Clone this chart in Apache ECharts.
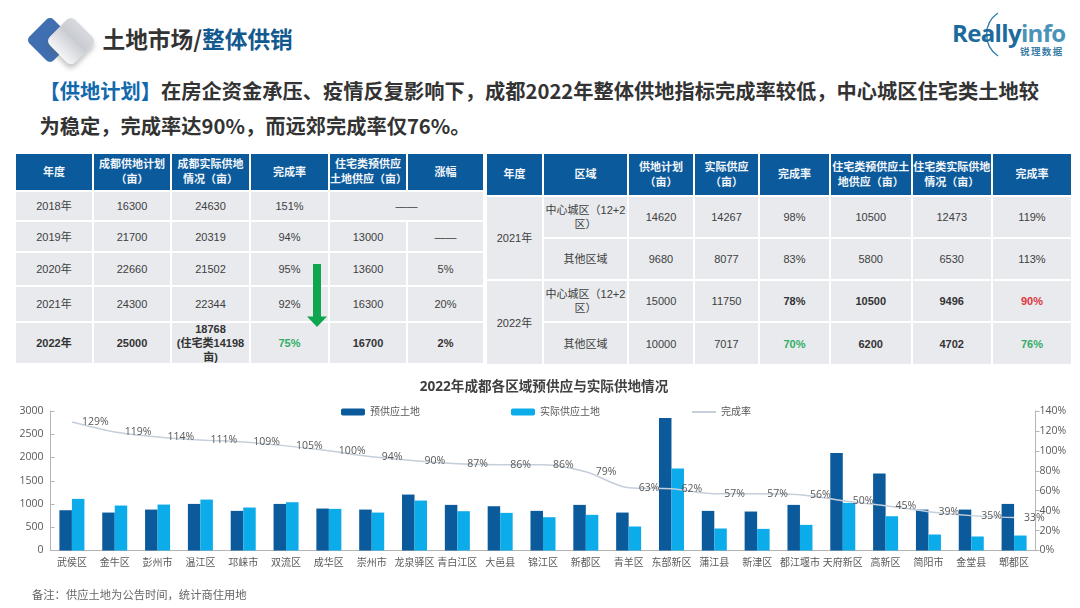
<!DOCTYPE html>
<html>
<head>
<meta charset="utf-8">
<title>土地市场/整体供销</title>
<script src="https://cdn.jsdelivr.net/npm/echarts@6/dist/echarts.min.js"></script>
<style>
  html, body { margin: 0; padding: 0; background: #fff; }
  #page { position: relative; width: 1080px; height: 608px; overflow: hidden; font-family: "Liberation Sans", "Noto Sans CJK SC", sans-serif; color: #404040; }
  .abs { position: absolute; white-space: nowrap; }
  #icon-blue, #icon-gray { position: absolute; transform: rotate(45deg); }
  #icon-blue { left: 33px; top: 23px; width: 34px; height: 34px; border-radius: 5px; background: #3f6fb0; }
  #icon-gray { left: 53px; top: 23px; width: 36px; height: 36px; border-radius: 6px; background: linear-gradient(0deg, #f4f5f7, #c9ccd2 60%, #d8dadf); box-shadow: 3px 3px 5px rgba(90,90,90,.35); }
  #title { left: 102.5px; top: 22px; font: bold 22.7px/34px "Noto Sans CJK SC", sans-serif; color: #333; }
  #title span { color: #12598f; }
  .lead { left: 39.5px; font: bold 20.25px/30px "Noto Sans CJK SC", sans-serif; color: #333; }
  .lead span { color: #1269ad; }
  .tbl { position: absolute; top: 154px; display: grid; gap: 2px; font-size: 11px; line-height: 14px; }
  .tbl div { display: flex; align-items: center; justify-content: center; text-align: center; white-space: pre-line; background: #e8eaee; min-height: 0; }
  .tbl div.head { background: #0b5a9b; color: #f2f6fa; font-weight: bold; line-height: 15px; }
  .tbl div.bold { font-weight: bold; color: #333; }
  .tbl div.good { color: #2fae66; font-weight: bold; }
  .tbl div.bad { color: #e0333c; font-weight: bold; }
  #chart { position: absolute; left: 0; top: 370px; width: 1080px; height: 238px; }
  #note { left: 32px; top: 586px; font: 11.3px/16px "Noto Sans CJK SC", sans-serif; color: #666; }
  #logo { left: 952px; top: 18px; font: 700 24px/30px "Open Sans", sans-serif; letter-spacing: -0.65px; color: #1d6a9c; }
  #logo span { color: #4b93b8; }
  #logo-cn { left: 1020px; top: 46px; font: bold 9.5px/11px "Noto Sans CJK SC", sans-serif; letter-spacing: 1.4px; color: #3c7ea6; }
</style>
</head>
<body>
<div id="page">
  <div id="icon-blue"></div>
  <div id="icon-gray"></div>
  <div id="title" class="abs">土地市场/<span>整体供销</span></div>
  <svg class="abs" style="left:0;top:0" width="1080" height="70">
    <path d="M998 13 A26 26 0 0 0 998 56" fill="none" stroke="#2f7fae" stroke-width="1.4"/>
  </svg>
  <div id="logo" class="abs">Really<span>info</span></div>
  <div id="logo-cn" class="abs">锐理数据</div>
  <div class="abs lead" style="top:76px"><span>【供地计划】</span>在房企资金承压、疫情反复影响下，成都2022年整体供地指标完成率较低，中心城区住宅类土地较</div>
  <div class="abs lead" style="top:111px">为稳定，完成率达90%，而远郊完成率仅76%。</div>
  <div id="plan-table" class="tbl" style="left:16px;width:467px;grid-template-columns:76px 76px 77px 77px 76px 75px;grid-template-rows:36px 28px 29px 32px 34px 40px"></div>
  <div id="region-table" class="tbl" style="left:487px;width:585px;grid-template-columns:55px 83px 64px 63px 69px 79.5px 78.5px 78px;grid-template-rows:41px 40px 40px 40px 41px"></div>
  <svg class="abs" style="left:300px;top:260px" width="34" height="70">
    <path d="M13 4 H21 V56.5 H27 L17 67 L7 56.5 H13 Z" fill="#0fa650"/>
  </svg>
  <div id="chart"></div>
  <div id="note" class="abs">备注：供应土地为公告时间，统计商住用地</div>
</div>
<script>
// 左表：年度供地
const planHead = ["年度", "成都供地计划\n（亩）", "成都实际供地\n情况（亩）", "完成率", "住宅类预供应\n土地供应（亩）", "涨幅"];
const planRows = [
    ["2018年", "16300", "24630", "151%", "——"],
    ["2019年", "21700", "20319", "94%", "13000", "——"],
    ["2020年", "22660", "21502", "95%", "13600", "5%"],
    ["2021年", "24300", "22344", "92%", "16300", "20%"],
    ["2022年", "25000", "18768\n(住宅类14198\n亩)", "75%", "16700", "2%"]
];

// 右表：分区域供地
const regionHead = ["年度", "区域", "供地计划\n（亩）", "实际供应\n（亩）", "完成率", "住宅类预供应土\n地供应（亩）", "住宅类实际供地\n情况（亩）", "完成率"];
const regionYears = ["2021年", "2022年"];
const regionRows = [
    ["中心城区（12+2\n区）", "14620", "14267", "98%", "10500", "12473", "119%"],
    ["其他区域", "9680", "8077", "83%", "5800", "6530", "113%"],
    ["中心城区（12+2\n区）", "15000", "11750", "78%", "10500", "9496", "90%"],
    ["其他区域", "10000", "7017", "70%", "6200", "4702", "76%"]
];

// 下方图表
const categories = ["武侯区", "金牛区", "彭州市", "温江区", "邛崃市", "双流区", "成华区", "崇州市", "龙泉驿区", "青白江区", "大邑县", "锦江区", "新都区", "青羊区", "东部新区", "蒲江县", "新津区", "都江堰市", "天府新区", "高新区", "简阳市", "金堂县", "郫都区"];
const preSupply = [866, 816, 880, 1002, 852, 1002, 902, 880, 1203, 981, 952, 852, 981, 816, 2850, 852, 838, 981, 2098, 1654, 880, 880, 1002];
const actualSupply = [1110, 967, 988, 1095, 924, 1038, 895, 816, 1074, 845, 809, 716, 766, 516, 1761, 473, 465, 551, 1024, 737, 344, 301, 322];
const finishRate = [129, 119, 114, 111, 109, 105, 100, 94, 90, 87, 86, 86, 79, 63, 62, 57, 57, 56, 50, 45, 39, 35, 33];

function addCell(parent, text, cls, style) {
    let d = document.createElement("div");
    d.textContent = text;
    if (cls) d.className = cls;
    if (style) d.style.cssText = style;
    parent.appendChild(d);
}

// 左表
let planEl = document.getElementById("plan-table");
planHead.forEach(t => addCell(planEl, t, "head"));
planRows.forEach((row, r) => {
    row.forEach((t, c) => {
        let cls = r == 4 ? "bold" : "";
        if (r == 4 && c == 3) cls = "good";
        // 2018年后两列合并
        addCell(planEl, t, cls, (r == 0 && c == 4) ? "grid-column:span 2" : "");
    });
});

// 右表
let regionEl = document.getElementById("region-table");
regionHead.forEach(t => addCell(regionEl, t, "head"));
regionRows.forEach((row, r) => {
    if (r % 2 == 0) addCell(regionEl, regionYears[r / 2], "", "grid-row:span 2");
    row.forEach((t, c) => {
        let cls = "";
        if (r >= 2 && c >= 3 && c <= 5) cls = "bold";
        if (r == 3 && c == 3) cls = "good";
        if (r == 3 && c == 6) cls = "good";
        if (r == 2 && c == 6) cls = "bad";
        addCell(regionEl, t, cls);
    });
});

let chart = echarts.init(document.getElementById("chart"));
const axisColor = "#b4b4b4";
const textColor = "#595959";
const chartFont = '"Open Sans", "Noto Sans CJK SC", sans-serif';

chart.setOption({
    animation: false,
    textStyle: { fontFamily: chartFont },
    title: {
        text: "2022年成都各区域预供应与实际供地情况",
        left: 539,
        top: 5,
        textAlign: "center",
        textStyle: { fontSize: 13.6, fontWeight: "bold", color: "#404040", fontFamily: chartFont }
    },
    legend: {
        left: 336,
        top: 32,
        itemWidth: 24,
        itemHeight: 7,
        itemGap: 91,
        textStyle: { fontSize: 10, color: textColor },
        data: ["预供应土地", "实际供应土地", { name: "完成率", itemStyle: { opacity: 0 } }]
    },
    grid: { left: 50.5, right: 44.5, top: 41, height: 139.5 },
    xAxis: {
        type: "category",
        data: categories,
        axisLine: { lineStyle: { color: axisColor } },
        axisTick: { length: 3, lineStyle: { color: axisColor } },
        axisLabel: { interval: 0, fontSize: 10, color: textColor, margin: 8 }
    },
    yAxis: [
        {
            type: "value",
            min: 0,
            max: 3000,
            interval: 500,
            splitLine: { show: false },
            axisLine: { show: true, lineStyle: { color: axisColor } },
            axisTick: { show: true, inside: true, length: 4, lineStyle: { color: axisColor } },
            axisLabel: { fontSize: 10.5, color: textColor, margin: 7, formatter: v => String(v) }
        },
        {
            type: "value",
            min: 0,
            max: 140,
            interval: 20,
            splitLine: { show: false },
            axisLine: { show: true, lineStyle: { color: axisColor } },
            axisTick: { show: true, length: 4, lineStyle: { color: axisColor } },
            axisLabel: { fontSize: 10.5, color: textColor, margin: 4, formatter: "{value}%" }
        }
    ],
    series: [
        { name: "预供应土地", type: "bar", data: preSupply, barWidth: 12.5, barGap: 0, itemStyle: { color: "#0b5a9b" } },
        { name: "实际供应土地", type: "bar", data: actualSupply, barWidth: 12.5, barGap: 0, itemStyle: { color: "#0cabe9" } },
        {
            name: "完成率",
            type: "line",
            yAxisIndex: 1,
            data: finishRate,
            smooth: 0.3,
            symbol: "circle",
            symbolSize: 0,
            showSymbol: true,
            lineStyle: { color: "#c5cedb", width: 1.5 },
            itemStyle: { color: "#c5cedb" },
            label: { show: true, position: "right", distance: 10, fontSize: 10.5, color: textColor, formatter: "{c}%" }
        }
    ]
});
</script>
</body>
</html>
